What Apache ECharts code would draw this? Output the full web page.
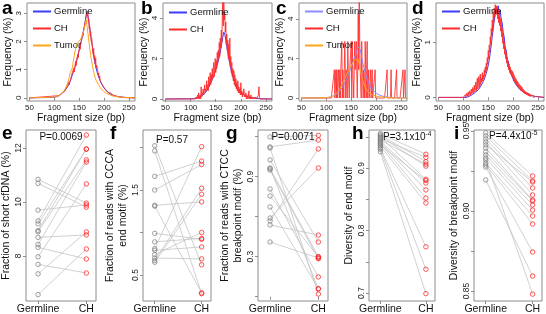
<!DOCTYPE html>
<html><head><meta charset="utf-8">
<script src="https://cdn.jsdelivr.net/npm/echarts@6/dist/echarts.min.js"></script>
<style>html,body{margin:0;padding:0;background:#fff}#c{width:546px;height:314px}</style>
</head><body><div id="c"></div>
<script>
// ---------- top row: fragment size distributions ----------
const sizeTicks = [50, 100, 150, 200, 250];
// smooth grid: 50, 100..250 step 2, 262  (values include 0 at both ends)
const aGerm = [0,0.02,0.03,0.04,0.05,0.07,0.09,0.11,0.14,0.17,0.2,0.24,0.28,0.33,0.38,0.45,0.52,0.6,0.7,0.8,0.9,1.0,1.12,1.25,1.4,1.55,1.7,1.85,2.0,2.15,2.35,2.5,2.7,2.95,3.05,2.85,2.6,2.35,2.1,1.85,1.6,1.4,1.2,1.05,0.9,0.8,0.7,0.6,0.52,0.45,0.4,0.35,0.3,0.26,0.22,0.19,0.16,0.14,0.12,0.1,0.09,0.08,0.07,0.06,0.05,0.05,0.04,0.04,0.03,0.03,0.02,0.02,0.02,0.01,0.01,0.01,0.01,0];
const aTumor = [0,0.03,0.04,0.05,0.06,0.08,0.1,0.12,0.15,0.18,0.22,0.27,0.33,0.4,0.5,0.6,0.75,0.9,0.95,1.05,1.3,1.5,1.7,1.85,1.95,1.95,2.0,2.05,2.1,2.2,2.3,2.45,2.6,2.75,2.5,2.2,1.9,1.65,1.4,1.2,1.0,0.85,0.72,0.62,0.55,0.48,0.42,0.37,0.32,0.28,0.25,0.22,0.19,0.17,0.15,0.13,0.11,0.1,0.09,0.08,0.07,0.06,0.05,0.05,0.04,0.04,0.03,0.03,0.03,0.02,0.02,0.02,0.01,0.01,0.01,0.01,0.01,0];
const bGerm = [0,0.01,0.01,0.02,0.02,0.03,0.04,0.05,0.06,0.08,0.1,0.12,0.15,0.18,0.22,0.27,0.33,0.4,0.48,0.57,0.67,0.78,0.9,1.02,1.15,1.3,1.45,1.6,1.78,1.98,2.2,2.45,2.75,3.05,3.3,3.2,2.9,2.6,2.3,2.0,1.75,1.5,1.28,1.1,0.95,0.82,0.7,0.6,0.52,0.45,0.38,0.33,0.28,0.24,0.2,0.17,0.15,0.13,0.11,0.09,0.08,0.07,0.06,0.05,0.04,0.04,0.03,0.03,0.02,0.02,0.02,0.01,0.01,0.01,0.01,0.01,0.01,0];
const cGerm = [0,0.02,0.03,0.03,0.04,0.05,0.06,0.08,0.1,0.12,0.15,0.18,0.22,0.27,0.32,0.38,0.45,0.53,0.62,0.72,0.82,0.93,1.05,1.18,1.32,1.45,1.58,1.72,1.86,2.0,2.15,2.3,2.45,2.58,2.62,2.45,2.2,1.95,1.7,1.48,1.28,1.1,0.95,0.82,0.7,0.6,0.52,0.45,0.39,0.34,0.29,0.25,0.22,0.19,0.16,0.14,0.12,0.1,0.09,0.08,0.07,0.06,0.05,0.04,0.04,0.03,0.03,0.02,0.02,0.02,0.02,0.01,0.01,0.01,0.01,0.01,0.01,0];
const cTumor = [0,0.02,0.03,0.03,0.04,0.05,0.07,0.09,0.12,0.15,0.2,0.25,0.3,0.35,0.42,0.5,0.6,0.72,0.8,0.95,1.05,1.15,1.3,1.25,1.45,1.5,1.65,1.55,1.8,1.75,1.95,2.05,1.9,1.95,1.7,1.45,1.2,1.0,0.82,0.66,0.55,0.45,0.38,0.32,0.27,0.23,0.2,0.17,0.15,0.13,0.11,0.1,0.09,0.08,0.07,0.06,0.05,0.05,0.04,0.04,0.03,0.03,0.03,0.02,0.02,0.02,0.02,0.01,0.01,0.01,0.01,0.01,0.01,0.01,0,0,0,0];
const dGerm = [0,0,0,0,0,0.01,0.01,0.02,0.03,0.04,0.05,0.06,0.07,0.09,0.1,0.12,0.14,0.16,0.19,0.22,0.25,0.29,0.33,0.38,0.44,0.5,0.58,0.68,0.8,0.95,1.1,1.25,1.4,1.5,1.62,1.56,1.66,1.54,1.58,1.42,1.35,1.18,1.1,0.9,0.86,0.7,0.66,0.55,0.48,0.42,0.38,0.33,0.29,0.26,0.23,0.2,0.18,0.16,0.14,0.12,0.11,0.1,0.09,0.08,0.07,0.06,0.05,0.05,0.04,0.04,0.03,0.03,0.02,0.02,0.02,0.01,0.01,0];
// noisy CH series, one value per bp (start bp given), with 0 at 50 bp and at 262 bp
const aChStart = 110;
const aCH = [0,0.08,0.12,0.1,0.14,0.12,0.18,0.15,0.2,0.17,0.24,0.22,0.28,0.25,0.33,0.3,0.38,0.35,0.44,0.55,0.5,0.46,0.58,0.55,0.66,0.78,0.75,0.72,0.85,0.8,1.05,0.92,1.08,1.02,1.3,1.15,1.35,1.3,1.55,1.42,1.65,1.58,1.8,1.72,1.95,1.9,2.1,2.05,2.3,2.2,2.45,2.4,2.6,2.55,2.8,2.75,3.0,2.9,3.05,2.7,2.8,2.45,2.55,2.2,2.35,2.0,2.1,1.9,1.9,1.55,1.75,1.35,1.5,1.2,1.42,1.05,1.15,1.1,1.0,0.8,0.88,0.7,0.78,0.62,0.68,0.55,0.6,0.48,0.52,0.42,0.46,0.36,0.4,0.32,0.35,0.28,0.3,0.24,0.27,0.2,0.23,0.17,0.2,0.15,0.17,0.13,0.15,0.11,0.13,0.1,0.11,0.08,0.1,0.07,0.08,0.06,0.07,0.05,0.06,0.05,0.05,0.04,0.05,0.03,0.04,0.03,0.04,0.02,0.03,0.02,0.03,0.02,0.02,0.01,0.02,0.01,0.02,0.01,0.01,0.01,0.01,0.01,0];
const bChStart = 110;
const bCH = [0,0,0.1,0,0,0.2,0,0.3,0,0.1,0.2,0,0.6,0.1,0.3,0.2,0.5,0.2,0.4,0.7,0.3,0.5,0.4,0.9,0.5,0.7,0.4,1.1,0.6,0.9,1.3,0.7,1.2,0.9,1.5,1.0,1.4,1.8,1.1,1.6,2.0,1.3,1.9,1.5,2.3,1.8,2.4,2.0,2.8,2.1,3.0,2.5,3.4,2.8,3.9,4.8,3.6,4.9,3.9,4.2,3.3,3.8,2.7,3.2,2.4,2.9,2.0,2.7,1.9,3.0,1.6,2.1,1.3,1.8,1.1,1.5,0.9,1.4,0.7,1.2,0.6,1.0,0.5,0.8,0.4,0.9,0.3,0.6,0.3,0.5,0.2,0.8,0.2,0.4,0.1,0.3,0.2,0.5,0.1,0.2,0.1,0.3,0,0.2,0.1,0,0.1,0.4,0,0.1,0,0.2,0,0,0.1,0,0,0.1,0,0,0,0.1,0,0,0,0,0.2,0.6,0.1,0,0,0,0,0,0,0,0,0,0,0,0,0,0];
const cChStart = 110;
const cCH = [0,0,0,0,0,0,0,1.43,0,0,1.43,0,1.43,0,0,1.43,1.43,0,1.43,0,1.43,1.43,2.86,0,1.43,1.43,0,1.43,2.86,1.43,0,1.43,1.43,0,2.86,1.43,1.43,0,1.43,1.43,1.43,2.86,0,2.86,1.43,1.43,0,1.43,2.86,1.43,1.43,2.86,1.43,0,1.43,4.29,1.43,5.71,2.86,1.43,1.43,0,2.86,1.43,1.43,0,1.43,1.43,0,2.86,1.43,0,1.43,2.86,0,0,1.43,0,0,0,1.43,0,0,1.43,0,0,0,0,0,1.43,0,0,0,0,0,0,0,0,0,0,0,0,0,0,0,0,0,0,0,0,0,0,0,1.43,0,0,0,0,0,0,0,1.43,0,0,0,0,0,0,0,0,0,0,1.43,0,0,0,0,0,0,0,0,0,0,0,0,1.43,0,0,0,1.43,0,0,0];
const dChStart = 100;
const dCH = [0,0,0,0.02,0,0.05,0,0.03,0.08,0.02,0.05,0.1,0.03,0.06,0.12,0.04,0.09,0.15,0.06,0.1,0.18,0.08,0.14,0.22,0.1,0.18,0.28,0.12,0.22,0.35,0.15,0.25,0.38,0.18,0.3,0.42,0.22,0.35,0.28,0.45,0.3,0.4,0.33,0.5,0.38,0.55,0.45,0.62,0.5,0.72,0.6,0.85,0.7,0.95,0.82,1.1,0.95,1.25,1.1,1.4,1.2,1.55,1.35,1.62,1.45,1.68,1.55,1.66,1.5,1.65,1.42,1.6,1.35,1.55,1.3,1.45,1.2,1.38,1.1,1.25,0.98,1.15,0.88,1.02,0.78,0.92,0.7,0.82,0.62,0.72,0.55,0.65,0.5,0.6,0.45,0.55,0.42,0.5,0.38,0.48,0.35,0.45,0.3,0.4,0.28,0.36,0.25,0.33,0.22,0.3,0.2,0.27,0.18,0.24,0.15,0.22,0.13,0.2,0.12,0.18,0.1,0.15,0.08,0.13,0.07,0.11,0.06,0.1,0.05,0.09,0.04,0.08,0.03,0.07,0.02,0.06,0.02,0.05,0.01,0.04,0.01,0.04,0,0.03,0,0.03,0,0.02,0,0.02,0,0.01,0];

// ---------- bottom row: paired germline vs CH ----------
const groupNames = ['Germline', 'CH'];
const eGerm = [10.84,10.69,9.70,9.30,9.19,8.94,8.90,8.69,8.43,8.32,7.97,7.69,7.34,6.57];
const eCH   = [9.96,9.81,9.89,12.48,11.96,11.96,11.56,8.78,11.48,7.89,10.67,7.37,8.89,8.26];
const fGerm = [2.02,1.96,1.66,1.50,1.32,1.31,0.99,0.89,0.81,0.79,0.74,0.70,0.65,0.67];
const fCH   = [0.62,0.28,1.84,1.80,1.36,0.29,0.92,0.93,2.01,0.83,1.00,0.69,1.45,1.52];
const gGerm = [1.198,1.123,1.115,1.025,0.965,0.95,0.808,0.755,0.673,0.59,0.568,0.538,0.41,0.96];
const gCH   = [1.21,1.175,0.02,0.41,0.058,0.285,0.148,0.298,0.06,0.965,1.108,0.462,0.29,0.30];
const hGerm = [0.955,0.953,0.951,0.949,0.947,0.945,0.943,0.941,0.939,0.937,0.935,0.932,0.930,0.926];
const hCH   = [0.922,0.910,0.903,0.882,0.917,0.906,0.876,0.865,0.852,0.880,0.844,0.774,0.738,0.699];
const iGerm = [0.9488,0.9469,0.945,0.9431,0.9413,0.9394,0.9369,0.935,0.9331,0.9319,0.93,0.9288,0.9275,0.9194];
const iCH   = [0.9219,0.9188,0.9144,0.91,0.9181,0.9069,0.9063,0.9038,0.9006,0.8481,0.8969,0.8919,0.8744,0.8594];
const pTexts = ['P=0.0069', 'P=0.57', 'P=0.0071', 'P=3.1x10{s|-4}', 'P=4.4x10{s|-5}'];

// ---------- build ----------
const FF = "'Liberation Sans', Arial, sans-serif";
const boxColor = '#8c8c8c';
const BLUE = '#3c3cff', BLUE_L = '#8c8cff', RED = '#ff2b2b', ORANGE = '#ffa31a';

function smoothGrid(){ const r=[50]; for(let v=100; v<=250; v+=2) r.push(v); r.push(262); return r; }
function noisyGrid(start, n){ const r=[50]; for(let k=0;k<n-2;k++) r.push(start+k); r.push(262); return r; }
function zip(xs, ys){ return ys.map((y,i)=>[xs[i], y]); }
const SX = smoothGrid();

const topBoxes = [
  {left:27, top:3, width:108, height:98},
  {left:163, top:3, width:109, height:98},
  {left:299, top:3, width:108, height:98},
  {left:436, top:3, width:108, height:98}
];
const topY = [
  {min:-0.11, max:3.36, ticks:[0,1,2,3]},
  {min:-0.1, max:4.74, ticks:[0,2,4]},
  {min:-0.15, max:4.8, ticks:[0,2,4]},
  {min:-0.065, max:1.71, ticks:[0,1]}
];
const botBoxes = [
  {left:26, top:130, width:70, height:171},
  {left:143, top:130, width:68, height:171},
  {left:258, top:130, width:70, height:171},
  {left:369, top:130, width:66, height:171},
  {left:474, top:130, width:68, height:171}
];
const botY = [
  {min:6.333, max:12.667, ticks:[8,10,12], labels:[8,10,12], dig:0, name:'Fraction of short cfDNA (%)', gap:13},
  {min:0.194, max:2.206, ticks:[0.5,1.0,1.5,2.0], labels:[0.5,1.5], dig:1, name:'Fraction of reads with CCCA\nend motif (%)', gap:11},
  {min:-0.0325, max:1.25, ticks:[0,0.3,0.6,0.9,1.2], labels:[0.3,0.9], dig:1, name:'Fraction of reads with CTCC\nbreakpoint motif (%)', gap:10},
  {min:0.6872, max:0.9608, ticks:[0.7,0.75,0.8,0.85,0.9,0.95], labels:[0.7,0.8,0.9], dig:1, name:'Diversity of end motif', gap:12},
  {min:0.8438, max:0.9506, ticks:[0.85,0.875,0.9,0.925,0.95], labels:[0.85,0.9,0.95], dig:2, name:'Diversity of breakpoint motif', gap:11}
];
const pairs = [[eGerm,eCH],[fGerm,fCH],[gGerm,gCH],[hGerm,hCH],[iGerm,iCH]];

const grids = [], xAxes = [], yAxes = [], series = [];
topBoxes.forEach((b,i)=>{
  grids.push(Object.assign({show:true, borderColor:boxColor, borderWidth:1, backgroundColor:'transparent', outerBoundsMode:'none'}, b));
  xAxes.push({gridIndex:i, type:'value', min:45, max:262, axisLine:{show:false}, splitLine:{show:false},
    axisTick:{show:true, length:3, customValues:sizeTicks, lineStyle:{color:boxColor}},
    axisLabel:{customValues:sizeTicks, fontSize:8, margin:3, color:'#222', fontFamily:FF},
    name:'Fragment size (bp)', nameLocation:'middle', nameGap:11,
    nameTextStyle:{fontSize:10.5, color:'#111', fontFamily:FF}});
  yAxes.push({gridIndex:i, type:'value', min:topY[i].min, max:topY[i].max, axisLine:{show:false}, splitLine:{show:false},
    axisTick:{show:true, length:3, customValues:topY[i].ticks, lineStyle:{color:boxColor}},
    axisLabel:{customValues:topY[i].ticks, rotate:90, fontSize:8, margin:4, color:'#222', fontFamily:FF},
    name:'Frequency (%)', nameLocation:'middle', nameGap:12,
    nameTextStyle:{fontSize:10.5, color:'#111', fontFamily:FF}});
});
botBoxes.forEach((b,k)=>{
  const i = k + 4, Y = botY[k];
  grids.push(Object.assign({show:true, borderColor:boxColor, borderWidth:1, backgroundColor:'transparent', outerBoundsMode:'none'}, b));
  xAxes.push({gridIndex:i, type:'value', min:0.75, max:2.2, axisLine:{show:false}, splitLine:{show:false},
    axisTick:{show:true, length:3, customValues:[1,2], lineStyle:{color:boxColor}},
    axisLabel:{customValues:[1,2], formatter:v=>groupNames[Math.round(v)-1], fontSize:10.5, margin:3, color:'#111', fontFamily:FF}});
  yAxes.push({gridIndex:i, type:'value', min:Y.min, max:Y.max, axisLine:{show:false}, splitLine:{show:false},
    axisTick:{show:true, length:3, customValues:Y.ticks, lineStyle:{color:boxColor}},
    axisLabel:{customValues:Y.labels, rotate:90, fontSize:8.5, margin:3, color:'#222', fontFamily:FF,
      formatter:v=>Number(v).toFixed(Y.dig)},
    name:Y.name, nameLocation:'middle', nameGap:Y.gap,
    nameTextStyle:{fontSize:10.5, lineHeight:13, color:'#111', fontFamily:FF}});
});

function lineS(name, gi, data, color, z, op){
  return {type:'line', name, xAxisIndex:gi, yAxisIndex:gi, data, showSymbol:false, symbol:'none', z:z||2,
    lineStyle:{color, width:1, opacity:op==null?1:op}, itemStyle:{color}, clip:true, animation:false};
}
// a
series.push(lineS('Germline',0,zip(SX,aGerm),BLUE,2));
series.push(lineS('CH',0,zip(noisyGrid(aChStart,aCH.length),aCH),RED,3,0.9));
series.push(lineS('Tumor',0,zip(SX,aTumor),ORANGE,4));
// b
series.push(lineS('Germline',1,zip(SX,bGerm),BLUE,2));
series.push(lineS('CH',1,zip(noisyGrid(bChStart,bCH.length),bCH),RED,3,0.9));
// c
series.push(lineS('CH',2,zip(noisyGrid(cChStart,cCH.length),cCH),RED,2,0.85));
series.push(lineS('Germline',2,zip(SX,cGerm),BLUE_L,3));
series.push(lineS('Tumor',2,zip(SX,cTumor),ORANGE,4));
// d
series.push(lineS('Germline',3,zip(SX,dGerm),BLUE,2));
series.push(lineS('CH',3,zip(noisyGrid(dChStart,dCH.length),dCH),RED,3,0.9));

pairs.forEach((p,k)=>{
  const gi = k + 4;
  series.push({type:'lines', coordinateSystem:'cartesian2d', xAxisIndex:gi, yAxisIndex:gi, silent:true, z:1,
    lineStyle:{color:'#c4c4c4', width:0.8, opacity:1},
    data:p[0].map((g,j)=>({coords:[[1,g],[2,p[1][j]]]}))});
  series.push({type:'scatter', name:'g'+k, xAxisIndex:gi, yAxisIndex:gi, symbol:'circle', symbolSize:4.5, z:3,
    itemStyle:{color:'rgba(0,0,0,0)', borderColor:'#7a7a7a', borderWidth:0.9},
    data:p[0].map(v=>[1,v])});
  series.push({type:'scatter', name:'c'+k, xAxisIndex:gi, yAxisIndex:gi, symbol:'circle', symbolSize:4.5, z:3,
    itemStyle:{color:'rgba(0,0,0,0)', borderColor:'#ff1a1a', borderWidth:0.9},
    data:p[1].map(v=>[2,v])});
});

function legendAt(left, top, names, overrides){
  return {left, top, orient:'vertical', icon:'rect', itemWidth:18, itemHeight:2, itemGap:6,
    selectedMode:false,
    data:names.map(n=>overrides && overrides[n] ? {name:n, itemStyle:{color:overrides[n]}} : n),
    textStyle:{fontSize:9.5, lineHeight:11, color:'#111', fontFamily:FF, padding:[0,0,0,-2]}};
}
const legends = [
  legendAt(28, 1, ['Germline','CH','Tumor']),
  legendAt(164, 2, ['Germline','CH']),
  legendAt(300, 1, ['Germline','CH','Tumor'], {Germline:BLUE_L}),
  legendAt(437, 1, ['Germline','CH'])
];

const panelLabels = [['a',2,-1],['b',141,-1],['c',276,-1],['d',412,-1],['e',2,124],['f',110,124],['g',226,124],['h',352,124],['i',454,124]];
const pPos = [[61,137,'center'],[172,140,'center'],[293,137,'center'],[383,137,'left'],[489,136,'left']];
const graphics = [];
panelLabels.forEach(l=>graphics.push({type:'text', x:l[1], y:l[2], z:10,
  style:{text:l[0], font:'bold 19px '+FF, fill:'#000', verticalAlign:'top'}}));
pTexts.forEach((t,k)=>graphics.push({type:'text', x:pPos[k][0], y:pPos[k][1], z:10,
  style:{text:t, font:'10px '+FF, fill:'#111', align:pPos[k][2], verticalAlign:'middle',
    rich:{s:{fontSize:6.5, fontFamily:FF, fill:'#111', verticalAlign:'top', padding:[0,0,6,0]}}}}));

const chart = echarts.init(document.getElementById('c'), null, {renderer:'canvas'});
chart.setOption({animation:false, backgroundColor:'#fff', grid:grids, xAxis:xAxes, yAxis:yAxes,
  legend:legends, series, graphic:graphics});
</script></body></html>
